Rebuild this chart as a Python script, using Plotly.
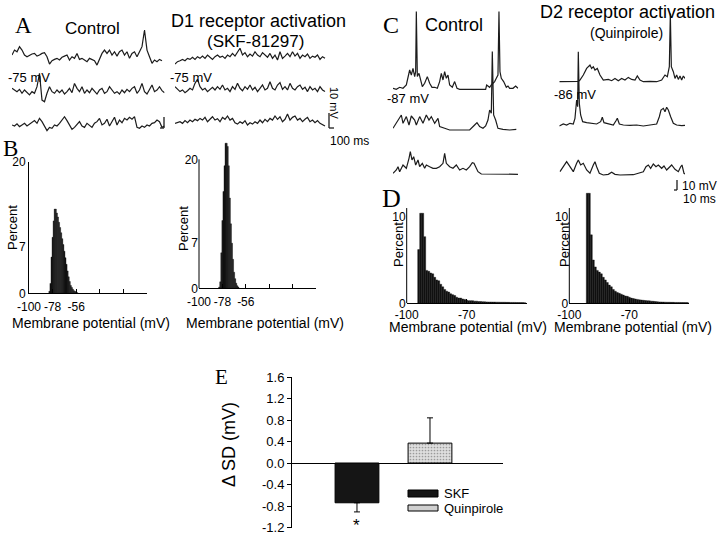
import plotly.graph_objects as go

W, H = 720, 536
SANS = "Arial, 'Liberation Sans', Helvetica, sans-serif"
SERIF = "'Times New Roman', 'Liberation Serif', Times, serif"
INK = "#1c1c1c"

# ------------------------------------------------------------------ data
# Panel A: membrane potential traces, mV relative to resting level, one sample every 15 ms
A_DT_MS = 15
A_CONTROL_1 = [1.1, 4.4, 3.3, 6.7, 4.4, 1.1, 0, 1.1, 1.8, 2.2, 0.4, 1.1, 2.2, 2.7, 0, -4.9, -2.7, -1.8, -1.1, -2.2,
               -0.4, 0.4, 1.1, -2.2, 0, -1.1, 2.2, -1.8, -1.1, -2.2, -3.3, -1.1, -1.8, -2.7, -5.6, -2.2, 2.2, 4.4, 2.2, 4.4,
               1.1, 3.3, 0.4, 3.3, 4.4, 1.1, 3.3, -1.1, 2.2, 3.3, 0, 3.3, 6.7, 17.8, 4.4, 0, -4.4, -2.2, -3.3, -1.8, -2.7]
A_CONTROL_2 = [1.1, 0, -1.1, 0.4, -2.2, 0, -1.8, -3.3, -1.1, -2.2, 2.2, 11.1, -6.7, -7.8, -2.2, 2.2, -1.1, -2.2, 0, -1.8,
               0, -2.7, -1.1, 1.1, -1.8, 4.4, 1.1, -1.1, 2.2, -2.2, 0, -1.8, 1.1, -1.1, -2.7, 0, 1.1, -2.2, -1.1, 2.2,
               0, -2.2, -1.1, -2.7, 0, -1.8, 0.4, -1.1, 1.1, 2.2, -2.2, 0, 4.4, -1.1, -2.7, 0, 3.3, -1.1, 0, 2.2, -0.4, -1.8]
A_CONTROL_3 = [-1.1, -1.8, -0.4, -2.2, -1.1, 0, -1.8, -0.4, 0.4, 1.8, 0, 3.3, 1.1, -2.2, -4.9, -2.7, -3.3, -1.1, -1.8, 0,
               2.2, 4.4, 1.8, -1.1, -4.0, -2.7, -1.1, 1.1, -1.8, -2.7, 0, -1.1, -2.7, 0, 1.1, 3.3, -1.1, 0, 2.7, -1.8,
               1.1, 4.0, -1.1, 2.2, 0.4, 3.3, 2.2, 4.0, 2.7, 4.4, -2.7, -3.3, -1.8, -2.7, -1.1, -1.8, 0, 0.4, 2.2, 1.1, -2.7, -1.8]
A_D1_1 = [-4.9, -3.3, -2.7, -1.8, -2.7, -1.1, -1.8, -0.4, -1.8, 0, -1.1, 0.4, -1.1, 1.1, -0.4, -1.8, 0, 1.1, -0.4, 0.4,
          -1.1, 1.1, 0, 2.2, 0.4, 3.3, 5.6, 1.1, 2.7, 0, 1.8, 0.4, 3.3, 1.1, 0, 2.7, 1.1, -0.4, 2.2, -1.1,
          1.1, -2.2, 3.3, -1.1, 0.4, 2.2, 0, 3.3, 0.4, 2.2, -1.1, 1.1, 0, 1.8, -1.1, 0.4, -0.4, 1.1, -1.8, 0, -1.1]
A_D1_2 = [1.1, -0.7, -2.2, -1.1, -2.9, -1.6, 0, -1.1, 3.3, 6.0, 1.1, -1.1, 0, -2.2, -0.7, 0.7, -1.1, 1.1, -0.7, 2.2,
          -1.1, 0, -2.2, 1.1, -0.7, 3.3, 0, -1.6, 1.1, -0.7, 2.2, -1.1, 0.7, -2.2, 0, 2.2, -1.1, 0, 4.4, 0,
          -1.1, 2.2, 3.8, -0.7, 1.1, -1.1, 3.3, 0, -1.1, 1.1, 2.2, -0.7, 0.7, -2.2, 1.1, -1.1, 0, -2.2, 1.1, -1.1, -2.2]
A_D1_3 = [-1.1, -0.7, 0, -1.1, 0.7, -0.7, 1.1, 0, 1.6, 0.7, 2.2, 1.1, 2.9, 0, 1.6, 3.3, 1.1, 2.0, 0, 2.9,
          1.6, 3.8, 1.1, 2.2, -0.7, -1.6, 0, -1.1, 0.7, -2.2, -0.7, -1.6, 0, -1.1, 1.1, -0.7, 1.6, 0, 2.2, 1.1,
          3.8, 1.6, 3.3, 0, 1.6, 5.1, 1.1, 2.9, 3.8, 1.1, 2.2, 0, 1.6, 2.9, 0, 1.1, -0.7, 0.7, -1.1, -2.2, -2.9]

# Panel C: traces as (time ms, mV relative to resting level)
C_CONTROL_1_T = [0, 10, 20, 30, 40, 45, 50, 55, 60, 65, 68, 70, 73, 78, 83, 88, 95, 103, 110, 117, 125, 133, 140, 145,
                 150, 155, 160, 165, 170, 178, 185, 192, 200, 220, 240, 260, 278, 281, 285, 290, 295, 300, 305, 310,
                 315, 318, 321, 325, 332, 340, 345, 350, 360, 368, 375]
C_CONTROL_1_V = [0, -1, 1, 0, 3.3, 10, 18.3, 13.3, 20, 11.7, 16.7, 76.7, 11.7, 15, 8.3, 1.7, 5, 11.7, 5, 1, 1, 0, 6.7,
                 15, 8.3, 16.7, 10, 13.3, 3.3, 1, 6.7, 0, -1, -1, -0.7, -1, -1, 3.3, 2.3, 1, 3.3, 5, 6.7, 10, 13.3,
                 76.7, 16.7, 10, 6.7, 1, 2.3, 0, 0, 2.3, 0]
C_CONTROL_2_T = [0, 15, 25, 30, 40, 48, 55, 65, 70, 80, 90, 100, 108, 115, 125, 135, 140, 155, 170, 190, 210, 230, 245,
                 252, 260, 270, 278, 285, 290, 295, 298, 302, 308, 315, 330, 350, 370]
C_CONTROL_2_V = [1, 9.3, 14.3, 6, 12.7, 4.3, 13.3, 9.3, 4.3, 12.7, 6, 14.3, 9.3, 12.7, 6, 11, 2.7, 1, -0.7, -0.7, -0.7,
                 -0.7, 4.3, 6.7, 2.7, 1, 3.3, 9.3, 19.3, 16, 77.7, 14.3, 9.3, 1, 0, -0.7, 0]
C_CONTROL_3_T = [0, 10, 15, 20, 30, 40, 48, 52, 57, 62, 68, 75, 80, 88, 95, 100, 110, 120, 130, 140, 150, 155, 160, 170,
                 180, 190, 200, 210, 220, 230, 238, 243, 248, 255, 265, 280, 300, 320, 340, 360, 375]
C_CONTROL_3_V = [0.7, 4, 7.3, 2.3, 9, 5.7, 15.7, 22.3, 14, 17.3, 9, 14, 7.3, 10.7, 5.7, 9, 7.3, 5.7, 5.7, 7.3, 10.7,
                 20.7, 10.7, 7.3, 5.7, 9, 4, 5.7, 4, 7.3, 11.3, 10.7, 7.3, 2.3, 0, 0, -0.3, 0, -0.3, 0, -0.3]
C_D2_1_T = [0, 22, 42, 54, 57, 62, 72, 82, 92, 97, 102, 107, 114, 122, 132, 147, 157, 167, 177, 187, 197, 207, 217, 227,
            234, 242, 252, 272, 292, 307, 317, 324, 330, 333, 336, 342, 347, 352, 357, 362, 367, 372, 377]
C_D2_1_V = [0, 0, -0.3, 0.3, 0.3, 1.7, 6.7, 13.3, 16.7, 13.3, 15, 11.7, 13.3, 6.7, 1.7, 2.3, 1, 3.3, 1, 3.3, 1.7, 4.3,
            2.3, 1.7, 5.7, 1.7, 0, 0.3, 0, 1.7, 6.7, 5, 15, 68.3, 15, 10, 3.3, 6.7, 2.3, 5.7, 1.7, 5.7, 3.3]
C_D2_2_T = [0, 12, 22, 32, 42, 47, 52, 55, 57, 60, 64, 70, 82, 97, 112, 124, 129, 134, 147, 162, 170, 174, 180, 192,
            212, 232, 252, 272, 292, 300, 305, 312, 317, 322, 327, 334, 342, 352, 367, 377]
C_D2_2_V = [-1, 1, 0, 1.7, 1, 6.7, 25, 18.3, 73.3, 21.7, 10, 3.3, 2.3, 1.7, 1, 3.3, 7.7, 2.3, 1, 0, 4.3, 6.7, 1, 0,
            -0.3, 0, -1, -0.3, 1, 8.3, 15, 16.7, 13.3, 17.7, 15, 8.3, 1.7, 0, -0.7, -0.3]
C_D2_3_T = [2, 12, 22, 32, 42, 52, 57, 64, 72, 82, 92, 102, 107, 112, 120, 132, 147, 157, 167, 182, 202, 222, 242, 252,
            260, 267, 274, 282, 290, 297, 307, 314, 322, 330, 337, 347, 357, 364, 368, 374, 377]
C_D2_3_V = [2.3, 7.3, 12.3, 7.3, 2.3, 10.7, 14, 9, 10.7, 4, 0.7, 9, 12.3, 7.3, 0.7, -1, -0.3, 1.7, -0.3, -1, -1, -0.7,
            1.3, 2.3, 7.3, 9, 5.7, 10, 7.3, 9, 5.7, 8, 4, 7.3, 9, 4.7, 2.3, 7.3, 9, 0.7, 0]

# Panel B: membrane potential histograms (bin centre mV, percent)
B_CONTROL_MV = [-81, -80, -79, -78, -77, -76, -75, -74, -73, -72, -71, -70, -69, -68, -67, -66, -65, -64, -63, -62,
                -61, -60, -59, -58, -57, -56, -55]
B_CONTROL_PCT = [0.3, 1.5, 5.5, 8.5, 11, 12.8, 12.8, 12.2, 11.6, 10.8, 10, 9.2, 8.3, 7.4, 6.4, 5.4, 4.4, 3.4, 2.5, 1.8,
                 1.2, 0.9, 0.6, 0.4, 0.3, 0.2, 0.1]
B_SKF_MV = [-81, -80, -79, -78, -77, -76, -75, -74, -73, -72, -71, -70, -69, -68, -67, -66, -65, -64, -63]
B_SKF_PCT = [0.2, 1.0, 5.5, 10.5, 15, 19, 22.5, 22.5, 22, 19, 14, 10, 7, 4.5, 2.5, 1.5, 0.8, 0.4, 0.2]

# Panel D: membrane potential histograms
D_CONTROL_MV = [-94, -93, -92, -91, -90, -89, -88, -87, -86, -85, -84, -83, -82, -81, -80, -79, -78, -77, -76, -75,
                -74, -73, -72, -71, -70, -69, -68, -67, -66, -65, -64, -63, -62, -61, -60, -59, -58, -57, -56, -55,
                -54, -53, -52, -51, -50, -49, -48, -47, -46, -45, -44, -43, -42, -41]
D_CONTROL_PCT = [6.2, 10.4, 10.4, 7.7, 3.8, 3.7, 3.5, 3.4, 3.0, 2.7, 2.6, 2.2, 1.9, 1.6, 1.4, 1.3, 1.1, 1.0, 0.9, 0.7,
                 0.6, 0.6, 0.5, 0.45, 0.35, 0.3, 0.3, 0.3, 0.25, 0.25, 0.2, 0.2, 0.18, 0.17, 0.16, 0.15, 0.15, 0.14,
                 0.14, 0.13, 0.13, 0.12, 0.12, 0.12, 0.11, 0.11, 0.1, 0.1, 0.1, 0.09, 0.09, 0.08, 0.08, 0.07]
D_QUIN_MV = [-91, -90, -89, -88, -87, -86, -85, -84, -83, -82, -81, -80, -79, -78, -77, -76, -75, -74, -73, -72,
             -71, -70, -69, -68, -67, -66, -65, -64, -63, -62, -61, -60, -59, -58, -57, -56, -55, -54, -53, -52,
             -51, -50, -49, -48, -47, -46, -45, -44, -43, -42, -41]
D_QUIN_PCT = [12.7, 12.7, 7.9, 5.0, 4.2, 3.8, 3.6, 3.4, 3.0, 2.7, 2.4, 2.1, 1.9, 1.6, 1.4, 1.25, 1.15, 1.05, 0.95, 0.85,
              0.8, 0.7, 0.6, 0.55, 0.5, 0.45, 0.4, 0.38, 0.35, 0.32, 0.3, 0.28, 0.25, 0.23, 0.2, 0.18, 0.16, 0.15,
              0.14, 0.13, 0.12, 0.12, 0.11, 0.11, 0.1, 0.1, 0.1, 0.09, 0.09, 0.08, 0.08]

B_TICKS = [-100, -78, -56, -34, -12, 10]
B_TICKTEXT = ["-100", "-78", "-56", "", "", ""]
B_YTICKS = [0, 7, 20]
D_TICKS = [-100, -70, -40]
D_TICKTEXT = ["-100", "-70", ""]
D_YTICKS = [0, 10]

# Panel E: change of SD
E_GROUPS = ["SKF", "Quinpirole"]
E_MEAN = [-0.74, 0.37]
E_ERR_DOWN = [0.17, 0.0]
E_ERR_UP = [0.0, 0.47]
E_YTICKS = [-1.2, -0.8, -0.4, 0.0, 0.4, 0.8, 1.2, 1.6]
E_YTICKTEXT = ["-1.2", "-0.8", "-0.4", "0.0", "0.4", "0.8", "1.2", "1.6"]

# ------------------------------------------------------------------ layout helpers (pixels -> paper)
def xdom(p0, p1):
    return [p0 / W, p1 / W]


def ydom(top, bottom):
    return [1 - bottom / H, 1 - top / H]


fig = go.Figure()
layout = dict(template="none", width=W, height=H, autosize=False,
              margin=dict(l=0, r=0, t=0, b=0, pad=0, autoexpand=False),
              paper_bgcolor="white", plot_bgcolor="rgba(0,0,0,0)", showlegend=False, barmode="overlay",
              font=dict(family=SANS, color="black"))

# --- trace panels (hidden axes) ---
A_Y_PX = (20, 135)
A_PX_PER_MV = 1.5
C_Y_PX = (5, 185)
C_PX_PER_MV = 1.0
trace_axes = {
    1: dict(x=(12, 164.5), xr=[0, 915], y=A_Y_PX, s=A_PX_PER_MV),
    2: dict(x=(175, 327.5), xr=[0, 915], y=A_Y_PX, s=A_PX_PER_MV),
    3: dict(x=(393, 518.3), xr=[0, 376], y=C_Y_PX, s=C_PX_PER_MV),
    4: dict(x=(559.3, 685), xr=[0, 377], y=C_Y_PX, s=C_PX_PER_MV),
}
for k, a in trace_axes.items():
    sfx = "" if k == 1 else str(k)
    yr = [0, (a["y"][1] - a["y"][0]) / a["s"]]
    layout["xaxis" + sfx] = dict(domain=xdom(*a["x"]), range=a["xr"], visible=False, anchor="y" + sfx,
                                 automargin=False)
    layout["yaxis" + sfx] = dict(domain=ydom(*a["y"]), range=yr, visible=False, anchor="x" + sfx,
                                 automargin=False)

BASES = {
    1: [56.7, 90.0, 123.3],
    2: [56.7, 88.3, 121.7],
    3: [88.3, 129.3, 174.0],
    4: [81.7, 125.0, 174.0],
}


def add_row(ax, row, t, v):
    a = trace_axes[ax]
    off = (a["y"][1] - BASES[ax][row]) / a["s"]
    sfx = "" if ax == 1 else str(ax)
    fig.add_trace(go.Scatter(x=t, y=[val + off for val in v], mode="lines",
                             line=dict(color=INK, width=1.2), hoverinfo="skip",
                             xaxis="x" + sfx, yaxis="y" + sfx))


for r, vals in enumerate([A_CONTROL_1, A_CONTROL_2, A_CONTROL_3]):
    add_row(1, r, [i * A_DT_MS for i in range(len(vals))], vals)
for r, vals in enumerate([A_D1_1, A_D1_2, A_D1_3]):
    add_row(2, r, [i * A_DT_MS for i in range(len(vals))], vals)
for r, (t, v) in enumerate([(C_CONTROL_1_T, C_CONTROL_1_V), (C_CONTROL_2_T, C_CONTROL_2_V),
                            (C_CONTROL_3_T, C_CONTROL_3_V)]):
    add_row(3, r, t, v)
for r, (t, v) in enumerate([(C_D2_1_T, C_D2_1_V), (C_D2_2_T, C_D2_2_V), (C_D2_3_T, C_D2_3_V)]):
    add_row(4, r, t, v)

# --- histogram panels ---
hist_axes = {
    5: dict(x=(29, 147), xr=[-100, 10], ticks=B_TICKS, tt=B_TICKTEXT, y=(161.7, 293.3), yr=[0, 20],
            yt=B_YTICKS, line_top=None, mv=B_CONTROL_MV, pct=B_CONTROL_PCT),
    6: dict(x=(199, 316), xr=[-100, 10], ticks=B_TICKS, tt=B_TICKTEXT, y=(140, 288.3), yr=[0, 23.0],
            yt=B_YTICKS, line_top=20, mv=B_SKF_MV, pct=B_SKF_PCT),
    7: dict(x=(406.7, 526.7), xr=[-100, -40], ticks=D_TICKS, tt=D_TICKTEXT, y=(200, 303.3), yr=[0, 11.93],
            yt=D_YTICKS, line_top=11, mv=D_CONTROL_MV, pct=D_CONTROL_PCT),
    8: dict(x=(569.3, 689.3), xr=[-100, -40], ticks=D_TICKS, tt=D_TICKTEXT, y=(190, 303.3), yr=[0, 13.08],
            yt=D_YTICKS, line_top=11, mv=D_QUIN_MV, pct=D_QUIN_PCT),
}
shapes = []
for k, a in hist_axes.items():
    sfx = str(k)
    layout["xaxis" + sfx] = dict(domain=xdom(*a["x"]), range=a["xr"], anchor="y" + sfx, showline=True,
                                 linecolor="black", linewidth=1, ticks="inside", ticklen=4, tickcolor="black",
                                 tickvals=a["ticks"], ticktext=a["tt"], tickfont=dict(size=12, family=SANS),
                                 ticklabelstandoff=0 if k in (7, 8) else 2,
                                 showgrid=False, zeroline=False, automargin=False)
    layout["yaxis" + sfx] = dict(domain=ydom(*a["y"]), range=a["yr"], anchor="x" + sfx,
                                 showline=a["line_top"] is None, linecolor="black", linewidth=1, ticks="",
                                 tickvals=a["yt"], ticktext=[str(v) for v in a["yt"]],
                                 tickfont=dict(size=12, family=SANS), showgrid=False, zeroline=False,
                                 automargin=False)
    if a["line_top"] is not None:
        shapes.append(dict(type="line", xref="x" + sfx + " domain", yref="y" + sfx, x0=0, x1=0,
                           y0=0, y1=a["line_top"], line=dict(color="black", width=1)))
    fig.add_trace(go.Bar(x=a["mv"], y=a["pct"], width=1.0, xaxis="x" + sfx, yaxis="y" + sfx,
                         marker=dict(color="#111111", line=dict(color="#111111", width=0.4)),
                         hoverinfo="skip"))

# --- panel E ---
layout["xaxis9"] = dict(domain=xdom(292, 503), type="category", categoryorder="array", categoryarray=E_GROUPS,
                        range=[-0.89, 2.0], anchor="y9", showline=False, showticklabels=False, ticks="",
                        showgrid=False, zeroline=False, automargin=False)
layout["yaxis9"] = dict(domain=ydom(377, 527.5), range=[-1.2, 1.6], anchor="x9", showline=True,
                        linecolor="black", linewidth=1, ticks="outside", ticklen=4, tickcolor="black",
                        tickvals=E_YTICKS, ticktext=E_YTICKTEXT, tickfont=dict(size=13, family=SANS),
                        showgrid=False, zeroline=True, zerolinecolor="black", zerolinewidth=1,
                        automargin=False)
E_STYLE = [
    dict(color="#151515", line=dict(color="black", width=1)),
    dict(color="#d6d6d6", line=dict(color="black", width=1),
         pattern=dict(shape=".", fgcolor="#9a9a9a", bgcolor="#dedede", size=3, solidity=0.25)),
]
for i, g in enumerate(E_GROUPS):
    fig.add_trace(go.Bar(x=[g], y=[E_MEAN[i]], width=0.6, xaxis="x9", yaxis="y9", marker=E_STYLE[i],
                         error_y=dict(type="data", symmetric=False, array=[E_ERR_UP[i]],
                                      arrayminus=[E_ERR_DOWN[i]], color="black", thickness=1, width=3),
                         hoverinfo="skip"))


# ------------------------------------------------------------------ decorations
def pline(x0, y0, x1, y1, w=1.3):
    shapes.append(dict(type="line", xref="paper", yref="paper", x0=x0 / W, x1=x1 / W,
                       y0=1 - y0 / H, y1=1 - y1 / H, line=dict(color=INK, width=w)))


# scale bars
pline(164, 117, 164, 128)
pline(160, 128, 164, 128)
pline(329, 113, 329, 128)
pline(329, 128, 334, 128)
pline(677, 180, 677, 190)
pline(674, 190, 677, 190)
# legend swatches for E
shapes.append(dict(type="rect", xref="paper", yref="paper", x0=408 / W, x1=438 / W, y0=1 - 497 / H,
                   y1=1 - 490 / H, fillcolor="#151515", line=dict(color="black", width=1)))
shapes.append(dict(type="rect", xref="paper", yref="paper", x0=408 / W, x1=438 / W, y0=1 - 511 / H,
                   y1=1 - 505 / H, fillcolor="#d0d0d0", line=dict(color="black", width=1)))

annotations = []


def txt(text, x, y, size, family=SANS, angle=0, xanchor="center"):
    annotations.append(dict(text=text, x=x / W, y=1 - y / H, xref="paper", yref="paper", showarrow=False,
                            xanchor=xanchor, yanchor="middle", textangle=angle, borderpad=0,
                            font=dict(size=size, family=family, color="black")))


txt("A", 23, 25, 23, SERIF)
txt("Control", 92, 29, 17)
txt("D1 receptor activation", 258, 21, 18)
txt("(SKF-81297)", 255, 41, 17)
txt("-75 mV", 29, 77, 13)
txt("-75 mV", 191, 77, 13)
txt("10 mV", 334, 103, 11, angle=90)
txt("100 ms", 349, 141, 12)
txt("B", 10, 148, 23, SERIF)
txt("Percent", 12, 228, 13, angle=-90)
txt("Percent", 183, 229, 13, angle=-90)
txt("Membrane potential (mV)", 91, 323, 14)
txt("Membrane potential (mV)", 265, 323, 14)
txt("C", 391, 25, 24, SERIF)
txt("Control", 454, 25, 18)
txt("D2 receptor activation", 627, 12, 18)
txt("(Quinpirole)", 626, 33, 14)
txt("-87 mV", 408, 99, 13)
txt("-86 mV", 575, 94, 13)
txt("10 mV", 681, 186, 12, xanchor="left")
txt("10 ms", 682, 199, 12, xanchor="left")
txt("D", 392, 198, 26, SERIF)
txt("Percent", 398, 245, 13, angle=-90)
txt("Percent", 564, 245, 13, angle=-90)
txt("Membrane potential (mV)", 468, 327, 14)
txt("Membrane potential (mV)", 633, 327, 14)
txt("E", 221, 377, 21, SERIF)
txt("\u0394 SD (mV)", 229, 445, 18, angle=-90)
txt("SKF", 443, 493, 13, xanchor="left")
txt("Quinpirole", 443, 508, 13, xanchor="left")
annotations.append(dict(text="*", x=E_GROUPS[0], y=E_MEAN[0] - E_ERR_DOWN[0], xref="x9", yref="y9",
                        showarrow=False, yanchor="top", yshift=-2, font=dict(size=17, family=SANS)))

layout["shapes"] = shapes
layout["annotations"] = annotations
fig.update_layout(**layout)
fig.write_html("out.html",
               config={"displayModeBar": False, "staticPlot": True},
               post_script="document.body.style.margin='0';document.body.style.padding='0';"
                           "document.body.style.overflow='hidden';")
